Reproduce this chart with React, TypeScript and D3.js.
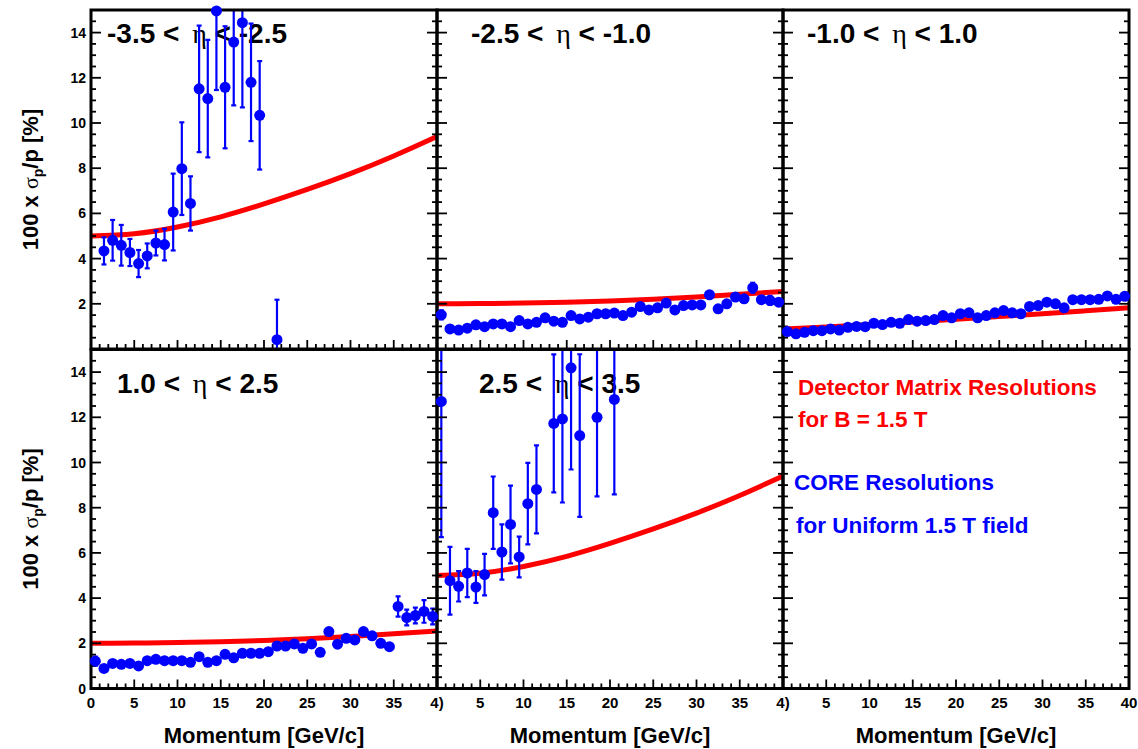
import React from 'react';
import * as d3 from 'd3';

// momentum axis and resolution axis ticks
const momentumTicks = [0, 5, 10, 15, 20, 25, 30, 35, 40];
const sigmaTicks = [0, 2, 4, 6, 8, 10, 12, 14];

// detector matrix resolution curves (B = 1.5 T), read every 5 GeV/c
const curveMomentum = [0, 5, 10, 15, 20, 25, 30, 35, 40];
const curveForward = [5.0, 5.1, 5.4, 5.85, 6.42, 7.06, 7.76, 8.54, 9.4];
const curveEndcap = [2.0, 2.01, 2.03, 2.07, 2.12, 2.2, 2.3, 2.42, 2.55];
const curveBarrel = [0.88, 0.97, 1.08, 1.2, 1.32, 1.44, 1.56, 1.69, 1.82];

// CORE resolutions, bin centres
const binsFull = d3.range(40).map(i => i + 0.5);

const pBackward = [1.5, 2.5, 3.5, 4.5, 5.5, 6.5, 7.5, 8.5, 9.5, 10.5, 11.5, 12.5, 13.5, 14.5, 15.5, 16.5, 17.5, 18.5, 19.5, 21.5];
const vBackward = [4.34, 4.81, 4.59, 4.27, 3.78, 4.12, 4.69, 4.62, 6.06, 7.98, 6.44, 11.51, 11.08, 14.96, 11.58, 13.58, 14.44, 11.8, 10.34, 0.41];
const eBackward = [0.6, 0.9, 0.9, 0.6, 0.6, 0.55, 0.55, 0.7, 1.7, 2.05, 1.2, 2.8, 2.6, 3.5, 2.7, 2.8, 3.75, 2.6, 2.4, 1.77];

const vEndcapNeg = [1.51, 0.89, 0.84, 0.92, 1.07, 0.99, 1.11, 1.11, 0.99, 1.26, 1.11, 1.18, 1.38, 1.23, 1.18, 1.48, 1.33, 1.41, 1.56, 1.56,
  1.59, 1.48, 1.63, 1.88, 1.73, 1.82, 2.03, 1.73, 1.92, 1.95, 1.95, 2.4, 1.78, 2.0, 2.3, 2.22, 2.71, 2.18, 2.15, 2.07];
const eEndcapNeg = [0.2, 0.08, 0.08, 0.08, 0.08, 0.08, 0.08, 0.08, 0.08, 0.08, 0.08, 0.08, 0.08, 0.08, 0.08, 0.08, 0.08, 0.08, 0.08, 0.08,
  0.08, 0.08, 0.08, 0.08, 0.08, 0.08, 0.08, 0.08, 0.08, 0.08, 0.1, 0.12, 0.1, 0.1, 0.1, 0.1, 0.22, 0.1, 0.2, 0.1];

const vBarrel = [0.77, 0.67, 0.74, 0.81, 0.81, 0.89, 0.84, 0.96, 1.0, 0.99, 1.14, 1.08, 1.18, 1.14, 1.3, 1.23, 1.26, 1.3, 1.48, 1.38,
  1.56, 1.6, 1.38, 1.48, 1.6, 1.7, 1.6, 1.56, 1.88, 1.92, 2.07, 2.0, 1.82, 2.18, 2.18, 2.18, 2.2, 2.35, 2.2, 2.33];
const eBarrel = binsFull.map(() => 0.06);

const vEndcapPos = [1.21, 0.89, 1.11, 1.07, 1.11, 1.0, 1.23, 1.29, 1.23, 1.23, 1.23, 1.16, 1.41, 1.16, 1.23, 1.51, 1.36, 1.56, 1.56, 1.56,
  1.63, 1.88, 1.88, 1.97, 1.78, 1.97, 1.6, 2.52, 1.96, 2.22, 2.15, 2.52, 2.33, 2.0, 1.85, 3.63, 3.14, 3.23, 3.41, 3.19];
const eEndcapPos = [0.2, 0.08, 0.08, 0.08, 0.08, 0.08, 0.08, 0.08, 0.08, 0.08, 0.08, 0.08, 0.08, 0.08, 0.08, 0.08, 0.08, 0.08, 0.08, 0.08,
  0.08, 0.08, 0.08, 0.08, 0.08, 0.08, 0.1, 0.1, 0.1, 0.1, 0.1, 0.12, 0.1, 0.12, 0.1, 0.45, 0.35, 0.35, 0.5, 0.35];

const pForward = [0.5, 1.5, 2.5, 3.5, 4.5, 5.5, 6.5, 7.5, 8.5, 9.5, 10.5, 11.5, 13.5, 14.5, 15.5, 16.5, 18.5, 20.5];
const vForward = [12.7, 4.77, 4.52, 5.11, 4.49, 5.04, 7.78, 6.04, 7.26, 5.82, 8.18, 8.81, 11.73, 11.93, 14.19, 11.19, 12.0, 12.79];
const eForward = [6.0, 1.5, 0.67, 1.07, 0.7, 0.92, 1.6, 1.22, 1.72, 0.9, 1.8, 1.95, 3.05, 3.7, 4.5, 3.6, 3.5, 4.2];

const panelTitles = [
  ['-3.5 < ', ' < -2.5'],
  ['-2.5 < ', ' < -1.0'],
  ['-1.0 < ', ' < 1.0'],
  ['1.0 < ', ' < 2.5'],
  ['2.5 < ', ' < 3.5'],
];

const W = 1138, H = 749;
const colX = [91, 437, 783];
const colW = 346;
const rowY = [10, 349.5];
const rowH = 339;

const RED = '#ff0000';
const BLUE = '#0000ff';
const SANS = 'Liberation Sans, Arial, Helvetica, sans-serif';
const SERIF = 'Liberation Serif, Times New Roman, serif';

type Panel = {
  col: number; row: number; title: string[] | null;
  curve: number[] | null;
  p: number[]; v: number[]; e: number[];
};

const panels: Panel[] = [
  { col: 0, row: 0, title: panelTitles[0], curve: curveForward, p: pBackward, v: vBackward, e: eBackward },
  { col: 1, row: 0, title: panelTitles[1], curve: curveEndcap, p: binsFull, v: vEndcapNeg, e: eEndcapNeg },
  { col: 2, row: 0, title: panelTitles[2], curve: curveBarrel, p: binsFull, v: vBarrel, e: eBarrel },
  { col: 0, row: 1, title: panelTitles[3], curve: curveEndcap, p: binsFull, v: vEndcapPos, e: eEndcapPos },
  { col: 1, row: 1, title: panelTitles[4], curve: curveForward, p: pForward, v: vForward, e: eForward },
  { col: 2, row: 1, title: null, curve: null, p: [], v: [], e: [] },
];

const titleX = [[107, 471, 807], [117, 479, 0]];
const titleY = [43, 393];

export default function App() {
  const scales = panels.map(pn => {
    const x0 = colX[pn.col], y0 = rowY[pn.row];
    return {
      x: d3.scaleLinear().domain([0, 40]).range([x0, x0 + colW]),
      y: d3.scaleLinear().domain([0, 15]).range([y0 + rowH, y0]),
    };
  });

  const minorY = d3.range(0, 15.01, 0.5);
  const minorX = d3.range(0, 40.01, 1);

  return (
    <svg width={W} height={H} style={{ display: 'block', position: 'absolute', left: 0, top: 0, background: '#fff' }}>
      <defs>
        {panels.map((pn, i) => (
          <clipPath id={`clip${i}`} key={i}>
            <rect x={colX[pn.col]} y={rowY[pn.row]} width={colW} height={rowH} />
          </clipPath>
        ))}
        <clipPath id="ylabTop">
          <rect x={0} y={0} width={91} height={348} />
        </clipPath>
      </defs>
      <rect width={W} height={H} fill="#fff" />

      {/* panel contents */}
      {panels.map((pn, i) => {
        const { x, y } = scales[i];
        const line = d3.line<number>()
          .x((_, j) => x(curveMomentum[j]))
          .y(d => y(d))
          .curve(d3.curveNatural);
        return (
          <g key={i}>
            {pn.title && (
              <text x={titleX[pn.row][pn.col]} y={titleY[pn.row]} fontFamily={SANS} fontWeight="bold" fontSize={28} fill="#000" style={{ whiteSpace: 'pre' }}>
                <tspan>{pn.title[0]}</tspan>
                <tspan dx={5} fontFamily={SERIF} fontWeight="normal">η</tspan>
                <tspan>{pn.title[1]}</tspan>
              </text>
            )}
            {pn.curve && (
              <path d={line(pn.curve) || ''} fill="none" stroke={RED} strokeWidth={5} clipPath={`url(#clip${i})`} />
            )}
            <g clipPath={`url(#clip${i})`} stroke={BLUE} strokeWidth={2.2}>
              {pn.p.map((p, j) => {
                const lo = pn.v[j] - pn.e[j], hi = pn.v[j] + pn.e[j];
                const cx = x(p);
                return (
                  <g key={j}>
                    <line x1={cx} x2={cx} y1={y(lo)} y2={y(hi)} />
                    {hi < 15 && <line x1={cx - 2.5} x2={cx + 2.5} y1={y(hi)} y2={y(hi)} />}
                    {lo > 0 && <line x1={cx - 2.5} x2={cx + 2.5} y1={y(lo)} y2={y(lo)} />}
                  </g>
                );
              })}
            </g>
          </g>
        );
      })}

      {/* frames and ticks */}
      {panels.map((pn, i) => {
        const { x, y } = scales[i];
        const x0 = colX[pn.col], x1 = x0 + colW;
        const yb = rowY[pn.row] + rowH;
        return (
          <g key={`f${i}`} stroke="#000">
            {minorY.map(t => {
              const len = t % 2 === 0 ? 10 : 5;
              return (
                <g key={t} strokeWidth={1.8}>
                  <line x1={x0} x2={x0 + len} y1={y(t)} y2={y(t)} />
                  <line x1={x1} x2={x1 - len} y1={y(t)} y2={y(t)} />
                </g>
              );
            })}
            {minorX.map(t => {
              const len = t % 5 === 0 ? 9 : 5;
              return <line key={t} x1={x(t)} x2={x(t)} y1={yb} y2={yb - len} strokeWidth={1.8} />;
            })}
            <rect x={x0} y={rowY[pn.row]} width={colW} height={rowH} fill="none" strokeWidth={3} />
          </g>
        );
      })}

      {/* y tick labels */}
      {[0, 1].map(row => {
        const y = scales[row * 3].y;
        return (
          <g key={`yl${row}`} clipPath={row === 0 ? 'url(#ylabTop)' : undefined}
            fontFamily={SANS} fontWeight="bold" fontSize={14} textAnchor="end">
            {sigmaTicks.map(t => (
              <text key={t} x={86} y={y(t)} dy={t === 0 && row === 0 ? '0.7em' : '0.36em'}>{t}</text>
            ))}
          </g>
        );
      })}

      {/* x tick labels */}
      {[0, 1, 2].map(col => {
        const x = scales[3 + col].x;
        return (
          <g key={`xl${col}`} fontFamily={SANS} fontWeight="bold" fontSize={15} textAnchor="middle">
            {momentumTicks.filter(t => col === 0 || t > 0).map(t => (
              <text key={t} x={x(t)} y={708}>{t === 40 && col < 2 ? '4)' : t}</text>
            ))}
          </g>
        );
      })}

      {/* axis titles */}
      {[0, 1, 2].map(col => (
        <text key={`xt${col}`} x={colX[col] + colW / 2} y={743} textAnchor="middle"
          fontFamily={SANS} fontWeight="bold" fontSize={22}>Momentum [GeV/c]</text>
      ))}
      {[0, 1].map(row => (
        <text key={`yt${row}`} transform={`translate(38,${rowY[row] + rowH / 2}) rotate(-90)`} textAnchor="middle"
          fontFamily={SANS} fontWeight="bold" fontSize={22}>
          100 x <tspan fontFamily={SERIF} fontWeight="normal">σ</tspan>
          <tspan fontSize={14} dy={5}>p</tspan>
          <tspan dy={-5}>/p [%]</tspan>
        </text>
      ))}

      {/* legend */}
      <g fontFamily={SANS} fontWeight="bold" fontSize={22.5}>
        <text x={798} y={395} fill={RED}>Detector Matrix Resolutions</text>
        <text x={798} y={427} fill={RED}>for B = 1.5 T</text>
        <text x={794} y={490} fill={BLUE}>CORE Resolutions</text>
        <text x={796} y={533} fill={BLUE}>for Uniform 1.5 T field</text>
      </g>

      {/* markers on top */}
      {panels.map((pn, i) => {
        const { x, y } = scales[i];
        return (
          <g key={`m${i}`} fill={BLUE}>
            {pn.p.map((p, j) => (
              <circle key={j} cx={x(p)} cy={y(pn.v[j])} r={5.5} />
            ))}
          </g>
        );
      })}
    </svg>
  );
}
